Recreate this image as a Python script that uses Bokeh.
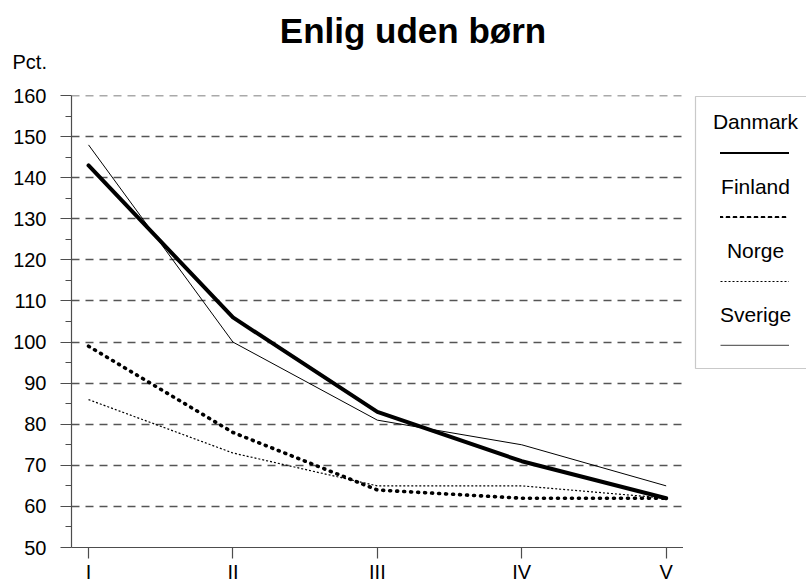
from bokeh.plotting import figure
from bokeh.models import Range1d, FixedTicker, Label, Legend, LegendItem, BoxAnnotation
from bokeh.layouts import column, row
from bokeh.embed import file_html
from bokeh.resources import INLINE

periods = ["I", "II", "III", "IV", "V"]
danmark = [143, 106, 83, 71, 62]
finland = [99, 78, 64, 62, 62]
norge = [86, 73, 65, 65, 62]
sverige = [148, 100, 81, 75, 65]
countries = ["Danmark", "Finland", "Norge", "Sverige"]
y_ticks = [50, 60, 70, 80, 90, 100, 110, 120, 130, 140, 150, 160]
y_minor = [55, 65, 75, 85, 95, 105, 115, 125, 135, 145, 155]
title_text = "Enlig uden børn"
unit_text = "Pct."

FONT = "Liberation Sans"
AX = "#4d4d4d"
xs = list(range(len(periods)))
series = {"Danmark": danmark, "Finland": finland, "Norge": norge, "Sverige": sverige}

styles = {
    "Danmark": dict(line_color="black", line_width=4, line_join="round", line_cap="round"),
    "Finland": dict(line_color="black", line_width=3.6, line_dash="1 6", line_cap="round"),
    "Norge": dict(line_color="black", line_width=1.2, line_dash="2 2"),
    "Sverige": dict(line_color="black", line_width=1),
}

HEAD_H = 80

# ---- header (title + unit) ----
head = figure(width=806, height=HEAD_H, output_backend="svg", toolbar_location=None,
              x_range=Range1d(0, 806), y_range=Range1d(HEAD_H, 0),
              x_axis_type=None, y_axis_type=None,
              min_border_left=0, min_border_right=0, min_border_top=0, min_border_bottom=0)
head.outline_line_color = None
head.grid.visible = False
head.add_layout(Label(x=412.5, y=42 - 0.35 * 35, text=title_text, text_align="center",
                      text_baseline="middle", text_font=FONT, text_font_size="35px",
                      text_font_style="bold", text_color="black"))
head.add_layout(Label(x=12, y=68.3 - 0.35 * 20, text=unit_text, text_align="left",
                      text_baseline="middle", text_font=FONT, text_font_size="20px",
                      text_color="black"))

# ---- main chart ----
BODY_H = 586 - HEAD_H
TOP_B = 95 - HEAD_H
p = figure(width=683, height=BODY_H, output_backend="svg", toolbar_location=None,
           x_range=Range1d(-0.118, 4.12), y_range=Range1d(50, 160.02),
           min_border_left=71, min_border_right=0, min_border_top=TOP_B, min_border_bottom=39)
p.outline_line_color = None
p.xgrid.grid_line_color = None
p.ygrid.grid_line_color = "#555555"
p.ygrid.grid_line_width = 1.3
p.ygrid.grid_line_dash = "8 6"

p.yaxis.ticker = FixedTicker(ticks=y_ticks, minor_ticks=y_minor)
p.xaxis.ticker = FixedTicker(ticks=xs)
p.xaxis.major_label_overrides = {i: s for i, s in enumerate(periods)}
for ax in (p.xaxis[0], p.yaxis[0]):
    ax.axis_line_color = AX
    ax.axis_line_width = 1.2
    ax.major_tick_line_color = AX
    ax.major_tick_line_width = 1.2
    ax.minor_tick_line_color = AX
    ax.major_tick_in = 0
    ax.major_tick_out = 11
    ax.major_label_text_font = FONT
    ax.major_label_text_font_size = "20px"
    ax.major_label_text_color = "black"
p.yaxis.minor_tick_in = 0
p.yaxis.minor_tick_out = 6
p.yaxis.major_label_standoff = 14
p.xaxis.minor_tick_line_color = None
p.xaxis.major_label_standoff = 2

for name in ["Sverige", "Norge", "Finland", "Danmark"]:
    p.line(xs, series[name], **styles[name])

# ---- legend panel (ranges in page pixels of the aligned frame 95..547) ----
leg = figure(width=123, height=BODY_H, output_backend="svg", toolbar_location=None,
             x_range=Range1d(683, 806), y_range=Range1d(547, 95),
             x_axis_type=None, y_axis_type=None,
             min_border_left=0, min_border_right=0, min_border_top=TOP_B, min_border_bottom=39)
leg.outline_line_color = None
leg.grid.visible = False

sample_styles = dict(styles)
sample_styles["Sverige"] = dict(line_color="#666666", line_width=1.5)
items = []
for name in countries:
    # series drawn outside this panel's view; used only for the legend sample
    r = leg.line(xs, series[name], **sample_styles[name])
    items.append(LegendItem(label=" ", renderers=[r]))
legend = Legend(items=items, location=(37, 201), orientation="vertical",
                padding=0, margin=0, spacing=62, glyph_width=69, glyph_height=2,
                label_width=0, label_height=0, label_standoff=0,
                label_text_font_size="1px", border_line_color=None,
                background_fill_alpha=0, inactive_fill_alpha=0)
leg.add_layout(legend, "center")

leg.add_layout(BoxAnnotation(left=695, right=900, top=96, bottom=368,
                             fill_alpha=0, line_color=AX, line_width=1.2))
name_base = [128.5, 193, 257.5, 321.5]
for name, yy in zip(countries, name_base):
    leg.add_layout(Label(x=755, y=yy - 0.35 * 21, text=name, text_align="center",
                         text_baseline="middle", text_font=FONT,
                         text_font_size="21px", text_color="black"))

layout = column(head, row(p, leg, spacing=0), spacing=0)
open("out.html", "w").write(file_html(layout, INLINE))
